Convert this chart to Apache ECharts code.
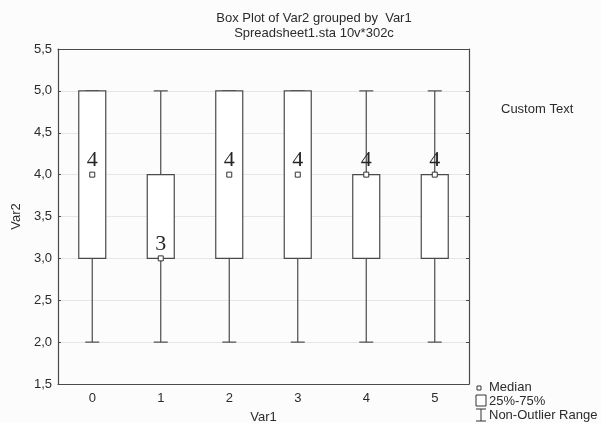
<!DOCTYPE html>
<html>
<head>
<meta charset="utf-8">
<script src="https://cdn.jsdelivr.net/npm/echarts@6/dist/echarts.min.js"></script>
<style>
html, body { margin: 0; padding: 0; background: #fcfcfc; }
#boxPlot { width: 601px; height: 423px; }
</style>
</head>
<body>
<div id="boxPlot"></div>
<script>
const categories = ['0', '1', '2', '3', '4', '5']
const minVals = [2, 2, 2, 2, 2, 2]
const q1Vals = [3, 3, 3, 3, 3, 3]
const medianVals = [4, 3, 4, 4, 4, 4]
const q3Vals = [5, 4, 5, 5, 4, 4]
const maxVals = [5, 5, 5, 5, 5, 5]
const yTicks = [1.5, 2.0, 2.5, 3.0, 3.5, 4.0, 4.5, 5.0, 5.5]

const lineColor = '#4a4a4a'
const textColor = '#2b2b2b'
const font = 'Arial, "Liberation Sans", sans-serif'

const boxData = categories.map((c, i) => [i, minVals[i], q1Vals[i], q3Vals[i], maxVals[i]])
const medianData = categories.map((c, i) => [i, medianVals[i]])

const renderBox = (params, api) => {
    const i = api.value(0)
    const pMin = api.coord([i, api.value(1)])
    const pQ1 = api.coord([i, api.value(2)])
    const pQ3 = api.coord([i, api.value(3)])
    const pMax = api.coord([i, api.value(4)])
    const x = pMin[0]
    const boxW = 27
    const capW = 14
    const lineStyle = { stroke: lineColor, lineWidth: 1.2, fill: null }
    const children = [
        { type: 'line', shape: { x1: x, y1: pQ1[1], x2: x, y2: pMin[1] }, style: lineStyle },
        { type: 'line', shape: { x1: x - capW / 2, y1: pMin[1], x2: x + capW / 2, y2: pMin[1] }, style: lineStyle },
        { type: 'line', shape: { x1: x, y1: pQ3[1], x2: x, y2: pMax[1] }, style: lineStyle },
        { type: 'line', shape: { x1: x - capW / 2, y1: pMax[1], x2: x + capW / 2, y2: pMax[1] }, style: lineStyle },
        {
            type: 'rect',
            shape: { x: x - boxW / 2, y: pQ3[1], width: boxW, height: pQ1[1] - pQ3[1] },
            style: { stroke: lineColor, lineWidth: 1.2, fill: '#ffffff' }
        }
    ]
    return { type: 'group', children: children }
}

const myChart = echarts.init(document.getElementById('boxPlot'))
const option = {
    backgroundColor: '#fcfcfc',
    animation: false,
    title: {
        text: 'Box Plot of Var2 grouped by  Var1\nSpreadsheet1.sta 10v*302c',
        left: 309,
        top: 6,
        textAlign: 'center',
        textStyle: {
            color: textColor,
            fontFamily: font,
            fontSize: 13,
            fontWeight: 'normal',
            lineHeight: 15
        }
    },
    grid: {
        left: 58,
        right: 132,
        top: 49,
        bottom: 39,
        outerBoundsMode: 'none'
    },
    xAxis: [
        {
            type: 'category',
            data: categories,
            position: 'bottom',
            name: 'Var1',
            nameLocation: 'middle',
            nameGap: 27,
            nameTextStyle: { color: textColor, fontFamily: font, fontSize: 13 },
            axisLine: { lineStyle: { color: lineColor, width: 1.2 } },
            axisTick: { alignWithLabel: true, inside: true, length: 3, lineStyle: { color: lineColor } },
            axisLabel: { color: textColor, fontFamily: font, fontSize: 13, margin: 8 },
            splitLine: { show: false }
        },
        {
            type: 'category',
            data: categories,
            position: 'top',
            axisLine: { lineStyle: { color: lineColor, width: 1.2 } },
            axisTick: { alignWithLabel: true, inside: true, length: 3, lineStyle: { color: lineColor } },
            axisLabel: { show: false }
        }
    ],
    yAxis: [
        {
            type: 'value',
            min: yTicks[0],
            max: yTicks[yTicks.length - 1],
            interval: 0.5,
            name: 'Var2',
            nameLocation: 'middle',
            nameRotate: 90,
            nameGap: 34,
            nameTextStyle: { color: textColor, fontFamily: font, fontSize: 13 },
            axisLine: { show: true, lineStyle: { color: lineColor, width: 1.2 } },
            axisTick: { show: true, inside: true, length: 3, lineStyle: { color: lineColor } },
            axisLabel: {
                color: textColor,
                fontFamily: font,
                fontSize: 13,
                margin: 6,
                formatter: (v) => v.toFixed(1).replace('.', ',')
            },
            splitLine: { show: true, lineStyle: { color: '#e6e6e6', width: 1 } }
        },
        {
            type: 'value',
            min: yTicks[0],
            max: yTicks[yTicks.length - 1],
            interval: 0.5,
            position: 'right',
            axisLine: { show: true, lineStyle: { color: lineColor, width: 1.2 } },
            axisTick: { show: true, inside: true, length: 3, lineStyle: { color: lineColor } },
            axisLabel: { show: false },
            splitLine: { show: false }
        }
    ],
    series: [
        {
            type: 'custom',
            renderItem: renderBox,
            data: boxData,
            encode: { x: 0, y: [1, 2, 3, 4] },
            z: 2
        },
        {
            type: 'scatter',
            data: medianData,
            symbol: 'rect',
            symbolSize: 5,
            itemStyle: { color: '#ffffff', borderColor: '#333333', borderWidth: 1, opacity: 1 },
            label: {
                show: true,
                position: 'top',
                distance: 0,
                formatter: (p) => String(p.value[1]),
                color: '#262626',
                fontFamily: '"Liberation Serif", "DejaVu Serif", serif',
                fontSize: 22
            },
            z: 3
        }
    ],
    graphic: [
        {
            type: 'text',
            left: 501,
            top: 103,
            style: { text: 'Custom Text', fill: textColor, font: '13px ' + font }
        },
        {
            type: 'rect',
            shape: { x: 477, y: 386, width: 4, height: 4 },
            style: { fill: '#ffffff', stroke: '#333333', lineWidth: 1 }
        },
        {
            type: 'text',
            left: 489,
            top: 381,
            style: { text: 'Median', fill: textColor, font: '13px ' + font }
        },
        {
            type: 'rect',
            shape: { x: 476, y: 395, width: 10, height: 11 },
            style: { fill: '#ffffff', stroke: '#333333', lineWidth: 1 }
        },
        {
            type: 'text',
            left: 489,
            top: 395,
            style: { text: '25%-75%', fill: textColor, font: '13px ' + font }
        },
        {
            type: 'polyline',
            shape: { points: [[476, 409], [486, 409]] },
            style: { stroke: '#333333', lineWidth: 1 }
        },
        {
            type: 'polyline',
            shape: { points: [[481, 409], [481, 421]] },
            style: { stroke: '#333333', lineWidth: 1 }
        },
        {
            type: 'polyline',
            shape: { points: [[476, 421], [486, 421]] },
            style: { stroke: '#333333', lineWidth: 1 }
        },
        {
            type: 'text',
            left: 489,
            top: 409,
            style: { text: 'Non-Outlier Range', fill: textColor, font: '13px ' + font }
        }
    ]
}
myChart.setOption(option)
</script>
</body>
</html>
